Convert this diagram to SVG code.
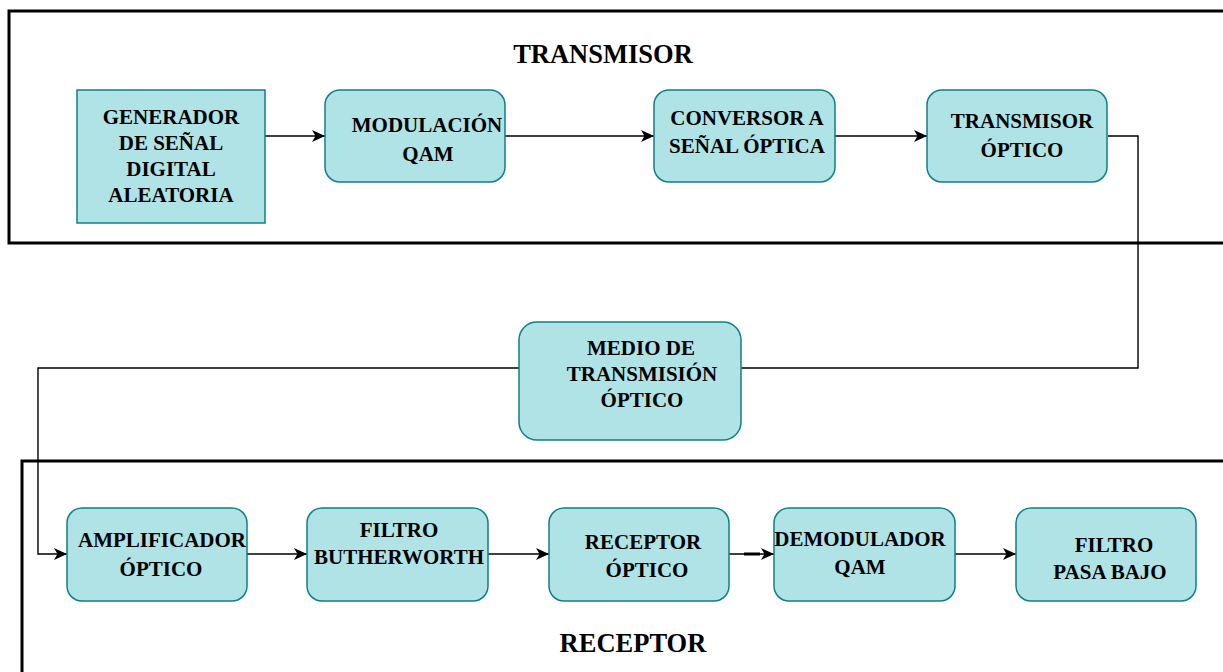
<svg xmlns="http://www.w3.org/2000/svg" width="1223" height="672" viewBox="0 0 1223 672">
<style>
.frame{fill:none;stroke:#000;stroke-width:3}
.box{fill:#b0e3e6;stroke:#0e8088;stroke-width:1.5}
.t{font-family:'Liberation Serif',Tinos,'Times New Roman','DejaVu Serif',serif;font-weight:700;font-size:21px;fill:#000;text-anchor:middle}
.title{font-family:'Liberation Serif',Tinos,'Times New Roman','DejaVu Serif',serif;font-weight:700;font-size:26.5px;fill:#000;text-anchor:middle}
.c{fill:none;stroke:#000;stroke-width:1.4}
</style>
<defs>
<marker id="arr" markerUnits="userSpaceOnUse" markerWidth="14" markerHeight="12" refX="13" refY="6" orient="auto">
<path d="M0,0 L13,6 L0,12 L3.5,6 Z" fill="#000"/>
</marker>
</defs>
<rect width="1223" height="672" fill="#fff"/>
<g id="frame-transmisor">
<rect class="frame" x="9" y="11" width="1240" height="232"/>
<text class="title" x="603" y="63">TRANSMISOR</text>
</g>
<g id="frame-receptor">
<rect class="frame" x="22" y="461" width="1230" height="300"/>
<text class="title" x="633" y="652">RECEPTOR</text>
</g>
<g id="connectors">
<path class="c" d="M265,136 H325" marker-end="url(#arr)"/>
<path class="c" d="M505,136 H654" marker-end="url(#arr)"/>
<path class="c" d="M835,136 H927" marker-end="url(#arr)"/>
<path class="c" d="M1108,136 H1138 V368 H741"/>
<path class="c" d="M519,368 H38 V554 H67" marker-end="url(#arr)"/>
<path class="c" d="M247,554 H307" marker-end="url(#arr)"/>
<path class="c" d="M488,554 H549" marker-end="url(#arr)"/>
<path class="c" d="M729,554 H774" marker-end="url(#arr)"/>
<line x1="744" y1="554" x2="760" y2="554" stroke="#000" stroke-width="3"/>
<path class="c" d="M955,554 H1016" marker-end="url(#arr)"/>
</g>
<g id="generador">
<rect class="box" x="77" y="90" width="188" height="133"/>
<text class="t" x="171" y="124">GENERADOR</text>
<text class="t" x="171" y="150">DE SEÑAL</text>
<text class="t" x="171" y="176">DIGITAL</text>
<text class="t" x="171" y="202">ALEATORIA</text>
</g>
<g id="modulacion">
<rect class="box" x="325" y="90" width="180" height="92" rx="15"/>
<text class="t" x="427" y="132">MODULACIÓN</text>
<text class="t" x="428" y="161">QAM</text>
</g>
<g id="conversor">
<rect class="box" x="654" y="90" width="181" height="92" rx="15"/>
<text class="t" x="747" y="125">CONVERSOR A</text>
<text class="t" x="747" y="153">SEÑAL ÓPTICA</text>
</g>
<g id="transmisor-optico">
<rect class="box" x="927" y="90" width="180" height="92" rx="15"/>
<text class="t" x="1022" y="128">TRANSMISOR</text>
<text class="t" x="1022" y="157">ÓPTICO</text>
</g>
<g id="medio">
<rect class="box" x="519" y="322" width="222" height="118" rx="18"/>
<text class="t" x="641" y="355">MEDIO DE</text>
<text class="t" x="642" y="381">TRANSMISIÓN</text>
<text class="t" x="642" y="407">ÓPTICO</text>
</g>
<g id="amplificador">
<rect class="box" x="67" y="508" width="180" height="93" rx="15"/>
<text class="t" x="162" y="547">AMPLIFICADOR</text>
<text class="t" x="161" y="576">ÓPTICO</text>
</g>
<g id="butherworth">
<rect class="box" x="307" y="508" width="181" height="93" rx="15"/>
<text class="t" x="399" y="537">FILTRO</text>
<text class="t" x="399" y="564">BUTHERWORTH</text>
</g>
<g id="receptor-optico">
<rect class="box" x="549" y="508" width="180" height="93" rx="15"/>
<text class="t" x="643" y="549">RECEPTOR</text>
<text class="t" x="647" y="577">ÓPTICO</text>
</g>
<g id="demodulador">
<rect class="box" x="774" y="508" width="181" height="93" rx="15"/>
<text class="t" x="860" y="546">DEMODULADOR</text>
<text class="t" x="860" y="574">QAM</text>
</g>
<g id="filtro-pasa-bajo">
<rect class="box" x="1016" y="508" width="180" height="93" rx="15"/>
<text class="t" x="1114" y="552">FILTRO</text>
<text class="t" x="1110" y="579">PASA BAJO</text>
</g>
</svg>
